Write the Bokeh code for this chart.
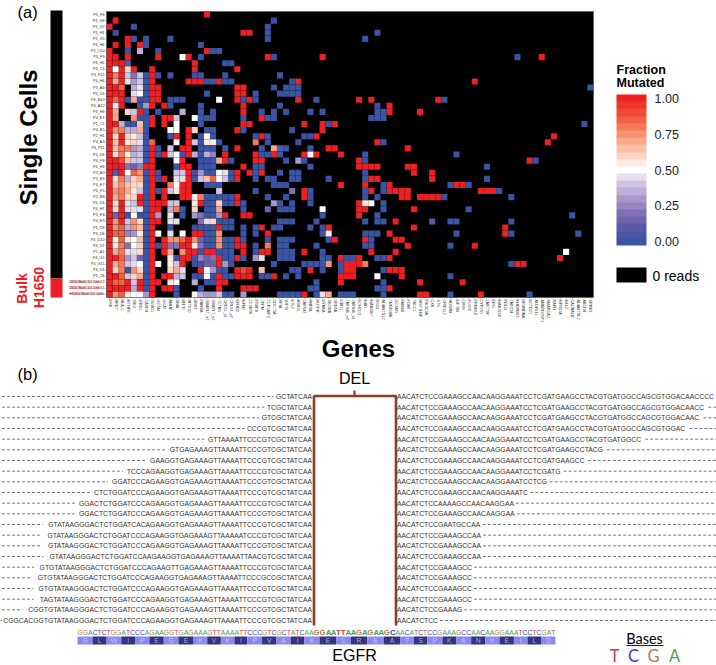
from math import pi
from bokeh.embed import file_html
from bokeh.resources import INLINE
from bokeh.plotting import figure
from bokeh.models import (ColumnDataSource, FactorRange, Range1d, LinearColorMapper, ColorBar,
                          FixedTicker, PrintfTickFormatter)

FONT = "Liberation Sans"

genes = ["DSK","BRD7","HLA-C","MTHFS","SIK3","IFRD1","CASP4","GLUD1","GOSM","GCAT","ANLN","DBAL","BFPD","INTS10",
         "DBX3","PAMBA","GBAPLT_v2","GBAPLT_v1","TCTN3","CRLS1_v1","CRLS1_v2","EFHD2","MFN2","ZC3H7B","PSBP8","ZFPM",
         "TOR1AIP2","CDC73A","RPIA","WIPI3","ETV2","ASH1L","ZNF592","RNPBL","RUTPR","DYNKA","SKOMB","SRD5B","LIBD1",
         "ZNFX4L_v2","ZNFX4L_v1","EOH2O3","MAD","KIAA0907","DSG1","ADAMTS12","TMEM38B","GOSM1","FAM8B","PGNT","TACC1",
         "HIST1H3F","PIK3C3A","CXK","STS","CRIF1L2","HDSRM","KIF7B6","OR6S","POSIS","PRDM10","CYP2S1","ZNF770P","ERG",
         "KIAA1614","PDLI3","ZNF224","KHDRBS3","DEXNDNA","KCTD21","ALDH1L1","ANKRD2SP1","SMARCA2","RAPH","MFSD2A",
         "MLL2","CACNA1B","ADAMTSL2","ABCD8","SRRM1"]
cells = ["P3_F6","P3_G8","P3_G7","P3_H1","P3_G5","P4_H6","P3_C10","P3_F9","P4_H2","P4_C3","P4_F12","P4_H4","P3_A6",
         "P3_C6","P4_B10","P4_A12","P3_H3","P4_E1","P1_C1","P4_B5","P2_H1","P4_A3","P4_F11","P4_D6","P4_F8","P4_H3",
         "P3_A3","P3_E6","P4_E7","P4_F5","P3_B8","P4_D4","P4_H7","P3_E8","P4_E9","P3_D8","P3_D6","P4_D10","P4_D7",
         "P1_A1","P4_G1","P4_G11","P4_D3","P3_C8","1650 Bulk 10 Cells 2","1650 Bulk 10 Cells 1","H1650 Bulk 50 Cells"]
bulk = cells[-3:]

# fully mutated calls per row (column indices)
rows_red = [[16],[1],[0],[22,23],[3],[1,3,5],[0,16],[0,1,3,8,13,26,35,71],[0,1,2,14],[0,2,4,7,14,21],[0,2,7],
 [0,2,7,13,14,15,18,31,60],[0,1,7,8,21,22],[0,1,2,7,8,21,22],[0,2,7,8,21,23,31,41,43,54],[0,2,7,9,22,46],
 [0,5,22,46,51],[0,7,9,10,25],[0,1,7,9,22,23,32,35,37],[0,13,21,35],[0,2,11,13,25,34,73],[0,2,13,44,72],
 [0,7,12,13,21,36,37,49],[0,7,9,13,19,24,27,32,34,38],[0,1,7,12,19,24,25,41,69],
 [0,1,2,6,7,12,13,22,41,42,43,44,49,50],[0,2,7,13,21,23,25,50,53],[0,7,9,13,21,43,44,53],
 [0,7,12,13,38,42,46,57,58],[0,7,9,12,13,32,43,46,47,48,49,61,62,63],[0,5,7,9,12,13,21,32,48,49,51,52,53,54],
 [0,2,5,7,8,9,15,21,41],[0,2,7,8,41,42,50],[0,2,7,8,19,22,23,41],[0,2,7,8,47],[0,7,18,25,36,50,65],
 [0,7,14,15,26,46,65],[0,7,9,13,21,37,42,47,48],[0,7,9,12,13,21,22,49,60],[0,7,9,13,14,16,17,22,25,26,32,43,47],
 [0,1,7,12,13,18,21,38,41,46,74],[0,7,12,18,39,40,41,67,68],[0,7,15,21,23,33,39,40,46,47,48],
 [0,1,7,9,10,18,21,22,23,27,38,39,40,48],[0,3,5,7,8,18,19,38,51,58],[0,1,2,3,5,7,9,10,18,22,23,24,46],
 [0,7,32,51,52,61]]
# unmutated calls per row (column indices)
rows_blue = [[],[27],[4,26],[1,26,44],[4,6,10,26,42],[6,15],[3,8,17,18],[15,27,67],[19,20],[],[6,8,10,14,15,19,28],
 [6,16,17,19,20,30],[6,27,29,30,31,79],[6,16,24,28,29,30,31],[3,5,6,10,11,12,22,24,34,55],[5,10,15,28,44],
 [6,8,15,17,25,27,29,33,35,44,45],[5,6,15,16,17,22,26,27,43,44,45],[3,4,6,15,36,78],[6,16,17,22,30],
 [6,10,15,17,24,26,32,33],[6,15,18,26,31,45],[6,8,15,16,17,19,25,29,33],[6,8,12,15,25,26,28,42,57],
 [6,15,16,17,20,29,32,42,70],[11,15,16,17,24,25,33,62],[6,8,14,16,17,20,24,28,30,31,42],
 [6,8,14,20,24,26,27,30,31,36,42,62],[6,16,17,18,27,28,29,45,56,59],[6,8,24,33,42,45,64],
 [6,16,17,18,19,20,26,29,33,42,44,55,66],[6,16,17,19,20,22,28,30,33,45],[6,12,16,17,22,28,29,30,45,59],
 [3,5,6,12,16,17,35,44,76],[6,18,19,20,28,29,30,34,42,44,45,56,57,66],[6,10,14,15,16,17,19,20,22,24,27,28,33,35],
 [6,16,17,22,24,35,42,43,44,57,66,77],[6,16,17,19,20,22,26,28,29,30,36,43],[6,8,16,17,19,20,24,28,29,34,42,43,56],
 [6,15,18,19,20,24,28,29,30,35],[6,11,14,19,20,22,28,29,30,35,36,39,40,44,45],[6,14,15,20,27,32,33,34,35,38,66],
 [3,6,18,19,30,31,35,38,45],[6,14,15,17,19,20,25,26,29,31,56],[6,16,17,34,45],[6,11,15,33,34,44,45],
 [11,19,20,28,29,30,31,34,38,39,40,45,56,69]]
# intermediate fractions per row (column -> fraction)
rows_mid = [{},{},{},{},{},{},{5:.35},{12:.5},{3:.12},{1:.52,3:.6},{1:.8,3:.42,4:.2,5:.38},{1:.7,3:.45,4:.28,5:.4},
 {2:.85,4:.35,5:.45},{4:.45,5:.5},{1:.85,4:.7,18:.5},{1:.45,6:.3},{1:.7,3:.6,4:.4,12:.35},{1:.7,4:.75,11:.4,14:.5},
 {2:.35,5:.65,11:.5},{1:.75,2:.8,3:.35,4:.35,5:.7,10:.5,11:.5,14:.6},{1:.6,3:.6,4:.55,5:.4,16:.5},
 {1:.65,3:.55,4:.6,5:.45,7:.85,11:.5,14:.4,16:.55,17:.55,24:.8},{1:.65,2:.8,3:.8,4:.3,5:.35,10:.4,27:.7,28:.12},
 {1:.6,2:.8,3:.55,4:.35,5:.4,10:.42,11:.5,14:.35,16:.35,17:.25,33:.5},{2:.9,3:.65,4:.4,5:.4,11:.5,18:.7,31:.3},
 {3:.2,4:.15,5:.25},{1:.12,3:.5,4:.85,5:.75,11:.4,12:.4,15:.3,18:.5,19:.45},
 {1:.6,2:.8,3:.35,4:.6,5:.7,11:.45,12:.45,15:.4,16:.65,17:.85,18:.5,19:.4},{1:.65,2:.75,3:.65,4:.6,5:.6,10:.8,11:.5},
 {1:.75,2:.8,3:.7,4:.55,5:.4,10:.4,11:.55,18:.4,30:.2},{1:.7,2:.8,3:.6,4:.6,14:.55,15:.8},
 {1:.6,3:.45,4:.4,10:.4,11:.4,14:.55,18:.6,27:.3,42:.55,43:.5},
 {1:.6,3:.45,4:.45,5:.47,10:.35,11:.8,14:.6,18:.7,26:.15,35:.5},{1:.15,4:.5,8:.3,10:.45,14:.3,15:.2,18:.3},
 {1:.75,3:.4,4:.75,5:.6,10:.45,11:.45,15:.2,16:.45,17:.6,53:.12},{1:.75,2:.85,3:.35,4:.75,5:.65},
 {1:.85,2:.85,3:.25,4:.3,5:.55,8:.5,10:.45,12:.48,18:.75,36:.55},
 {1:.55,2:.85,3:.55,4:.5,5:.65,10:.75,11:.75,12:.85,14:.75,15:.15,18:.75},
 {1:.55,2:.8,3:.2,4:.5,5:.6,10:.2,11:.2,14:.55,15:.2,18:.75,26:.8},{1:.7,2:.8,3:.45,4:.45,5:.6,10:.7,12:.75,75:.5},
 {2:.85,3:.3,4:.4,5:.15,10:.55,15:.25,16:.15,17:.2,24:.3,25:.45},
 {1:.7,2:.8,3:.4,4:.45,5:.5,8:.5,10:.55,11:.4,16:.15,17:.15,19:.3,36:.75,42:.8},
 {1:.6,2:.8,4:.75,5:.6,10:.6,11:.7,12:.45,16:.5,17:.3,22:.9,25:.65},{2:.85,3:.4,4:.6,5:.7,11:.35,12:.4,16:.5,44:.5},
 {1:.85,2:.85,4:.4,10:.55,11:.5,14:.35},{4:.35},
 {1:.75,2:.85,3:.55,4:.5,5:.48,6:.3,14:.5,15:.35,16:.3,17:.3,18:.4,22:.3,35:.45,36:.7}]

palette = ["#3b54a4","#4a55a6","#5b58a8","#6f62ae","#8371b6","#9484bf","#a898c9","#bcaed6","#cfc4e1","#e6dfee","#ffffff",
           "#fdebe2","#fcd5c4","#fbbfa8","#f9a98c","#f79273","#f57a5a","#f26144","#f04a35","#ee362a","#ed2024"]

left_reads = ["GCTATCAA","TCGCTATCAA","GTCGCTATCAA","CCCGTCGCTATCAA","GTTAAAATTCCCGTCGCTATCAA",
 "GTGAGAAAGTTAAAATTCCCGTCGCTATCAA","GAAGGTGAGAAAGTTAAAATTCCCGTCGCTATCAA","TCCCAGAAGGTGAGAAAGTTAAAATTCCCGTCGCTATCAA",
 "GGATCCCAGAAGGTGAGAAAGTTAAAATTCCCGTCGCTATCAA","CTCTGGATCCCAGAAGGTGAGAAAGTTAAAATTCCCGTCGCTATCAA",
 "GGACTCTGGATCCCAGAAGGTGAGAAAGTTAAAATTCCCGTCGCTATCAA","GGACTCTGGATCCCAGAAGGTGAGAAAGTTAAAATTCCCGTCGCTATCAA",
 "GTATAAGGGACTCTGGATCACAGAAGGTGAGAAAGTTAAAATTCCCGTCGCTATCAA","GTATAAGGGACTCTGGATCCCAGAAGGTGAGAAAGTTAAAAATCCCGTCGCTATCAA",
 "GTATAAGGGACTCTGGATCCCAGAAGGTGAGAAAGTTAAAATTCCCGTCGCTATCAA","GTATAAGGGACTCTGGATCCAAGAAGGTGAGAAAGTTAAAATTAACGTCGCTATCAA",
 "GTGTATAAGGGACTCTGGATCCCAGAAGTTGAGAAAGTTAAAATTCCCGTCGCTATCAA","GTGTATAAGGGACTCTGGATCCCAGAAGGTGAGAAAGTTAAAATTCCCGCCGCTATCAA",
 "GTGTATAAGGGACTCTGGATCCCAGAAGGTGAGAAAGTTAAAATTCCCGTCGCTATCAA","TAGTATAAGGGACTCTGGATCCCAGAAGGTGAGAAAGTTAAAATTCCCGTCGCTATCAA",
 "CGGTGTATAAGGGACTCTGGATCCCAGAAGGTGAGAAAGTTAAAATTCCCGTCGCTATCAA","CGGCACGGTGTATAAGGGACTCTGGATCCCAGAAGGTGAGAAAGTTAAAATTCCCGTCGCTATCAA"]
right_reads = ["AACATCTCCGAAAGCCAACAAGGAAATCCTCGATGAAGCCTACGTGATGGCCAGCGTGGACAACCCC",
 "AACATCTCCGAAAGCCAACAAGGAAATCCTCGATGAAGCCTACGTGATGGCCAGCGTGGACAACC","AACATCTCCGAAAGCCAACAAGGAAATCCTCGATGAAGCCTACGTGATGGCCAGCGTGGACAAC",
 "AACATCTCCGAAAGCCAACAAGGAAATCCTCGATGAAGCCTACGTGATGGCCAGCGTGGAC","AACATCTCCGAAAGCCAACAAGGAAATCCTCGATGAAGCCTACGTGATGGCC",
 "AACATCTCCGAAAGCCAACAAGGAAATCCTCGATGAAGCCTACG","AACATCTCCGAAAGCCAACAAGGAAATCCTCGATGAAGCC","AACATCTCCGAAAGCCAACAAGGAAATCCTCGATG",
 "AACATCTCCGAAAGCCAACAAGGAAATCCTCG","AACATCTCCGAAAGCCAACAAGGAAATC","AACATCTCCAAAAGCCAACAAGGAA","AACATCTCCGAAAGCCAACAAGGAA",
 "AACATCTCCGAATGCCAA","AACATCTCCGAAAGCCAA","AACATCTCCGAAAGCCAA","AACATCTCCGAAAGCCAA","AACATCTCCGAAAGCC","AACATCTCCGAAAGCC",
 "AACATCTCCGAAAGCC","AACATCTCCGAAAGCC","AACATCTCCGAAAG","AACATCTCC"]
reference = "GGACTCTGGATCCCAGAAGGTGAGAAAGTTAAAATTCCCGTCGCTATCAAGGAATTAAGAGAAGCAACATCTCCGAAAGCCAACAAGGAAATCCTCGAT"
deleted = (50, 65)
residues = list("GLWIPEGEKVKIPVAIKELREATSPKANKEILD")
base_colors = {"T": "#d43c3c", "C": "#3c3cc0", "G": "#b27a55", "A": "#45a05a"}
base_widths = {"A": .667, "C": .722, "G": .778, "T": .611}

# ---------- (a) heat map ----------
x_c, y_c, v_c = [], [], []
for name, reds, blues, mids in zip(cells, rows_red, rows_blue, rows_mid):
    for c in reds:
        x_c.append(genes[c]); y_c.append(name); v_c.append(1.0)
    for c in blues:
        x_c.append(genes[c]); y_c.append(name); v_c.append(0.0)
    for c, f in mids.items():
        x_c.append(genes[c]); y_c.append(name); v_c.append(f)

top = figure(width=716, height=330, output_backend="svg", toolbar_location=None,
             x_range=FactorRange(factors=genes), y_range=FactorRange(factors=cells[::-1]),
             frame_width=487, frame_height=286, min_border_left=106, min_border_right=123,
             min_border_top=11, min_border_bottom=33, background_fill_color="black",
             outline_line_color="#666666", outline_line_width=1, margin=(0, 0, 0, 0))
top.grid.visible = False
mapper = LinearColorMapper(palette=palette, low=-0.025, high=1.025)
top.rect(x="x", y="y", width=1, height=1, source=ColumnDataSource(dict(x=x_c, y=y_c, v=v_c)),
         fill_color={"field": "v", "transform": mapper}, line_color="black", line_alpha=0.12, line_width=0.5)
for ax in (top.xaxis[0], top.yaxis[0]):
    ax.axis_line_color = None
    ax.major_tick_line_color = "#555555"
    ax.major_tick_line_width = 0.5
    ax.major_tick_out = 1
    ax.major_tick_in = 0
    ax.minor_tick_line_color = None
    ax.major_label_text_font = FONT
    ax.major_label_text_font_size = "3.8px"
    ax.major_label_text_color = "#333333"
    ax.major_label_standoff = 1
top.xaxis[0].major_label_orientation = "vertical"
top.yaxis[0].major_label_overrides = {b: "" for b in bulk}

cb = ColorBar(color_mapper=mapper, ticker=FixedTicker(ticks=[0, .25, .5, .75, 1]),
              formatter=PrintfTickFormatter(format="%.2f"), width=30, height=151, padding=0, margin=0,
              location=(510, 52), major_label_text_font=FONT, major_label_text_font_size="12.5px",
              major_label_text_color="#222222", label_standoff=8, major_tick_line_color=None,
              bar_line_color=None, border_line_color=None, background_fill_alpha=0)
top.add_layout(cb)

# ---------- page overlay: labels, side bars, (b) alignment ----------
Y0, DY, FS = 396.0, 10.667, 6.8


def twidth(s, fs=FS):
    return sum(base_widths[ch] for ch in s) * fs


bot = figure(width=716, height=665, output_backend="svg", toolbar_location=None, x_range=Range1d(0, 716),
             y_range=Range1d(665, 0), min_border=0, outline_line_color=None, background_fill_alpha=0,
             border_fill_alpha=0, margin=(0, 0, 0, 0), styles={"position": "absolute", "left": "0px", "top": "0px"})
bot.axis.visible = False
bot.grid.visible = False


def note(x, y, text, size, color="black", align="center", font=FONT, bold=False, angle=0.0):
    bot.text(x=[x], y=[y], text=[text], text_font={"value": font}, text_font_size={"value": f"{size}px"},
             text_color=color, text_align=align, text_baseline="middle", angle=angle,
             text_font_style="bold" if bold else "normal")


RED = "#ed1c24"
bot.quad(left=[50, 50, 616], right=[62, 62, 646], top=[10, 278, 267], bottom=[278, 297, 282],
         fill_color=["black", RED, "black"], line_color=None)
note(17, 11, "(a)", 16.5, align="left")
note(28, 137, "Single Cells", 24, bold=True, angle=pi/2)
note(21, 288, "Bulk", 14, RED, bold=True, angle=pi/2)
note(38, 287, "H1650", 14, RED, bold=True, angle=pi/2)
note(358, 348, "Genes", 24, bold=True)
note(616, 69, "Fraction", 12.5, align="left", bold=True)
note(616, 82, "Mutated", 12.5, align="left", bold=True)
note(652, 275, "0 reads", 14, align="left")
for i, b in enumerate(bulk):
    note(102, 281.7 + i * 6.0, b, 3.7, RED, align="right")

ys = [Y0 + DY * i for i in range(len(left_reads))]
L_END, R_START = 311.5, 396.5
bot.text(x=[L_END] * len(ys), y=ys, text=left_reads, text_font={"value": FONT}, text_font_size={"value": f"{FS}px"},
         text_align="right", text_baseline="middle", text_color="#333333")
bot.text(x=[R_START] * len(ys), y=ys, text=right_reads, text_font={"value": FONT}, text_font_size={"value": f"{FS}px"},
         text_align="left", text_baseline="middle", text_color="#333333")
gap_x0 = [1.5] * len(ys) + [R_START + twidth(s) + 1.5 for s in right_reads]
gap_x1 = [L_END - twidth(s) - 1.5 for s in left_reads] + [716] * len(ys)
bot.segment(x0=gap_x0, x1=gap_x1, y0=ys + ys, y1=ys + ys, line_color="#555555", line_width=0.8, line_dash="3 2")

BROWN = "#8b3f23"
bot.line([313.5, 313.5, 395.5, 395.5], [625, 395.5, 395.5, 625], line_color=BROWN, line_width=2.6)
bot.line([354, 354], [390, 395], line_color=BROWN, line_width=2.2)

# reference strand, one letter per base, and its codon strip
widths = [base_widths[b] * (7.8 if deleted[0] <= i < deleted[1] else FS) for i, b in enumerate(reference)]
scale = (555 - 77) / sum(widths)
edges = [77.0]
for w in widths:
    edges.append(edges[-1] + w * scale)
bot.text(x=edges[:-1], y=[632] * len(reference), text=list(reference), text_font={"value": FONT},
         text_font_size=[f"{7.8 if deleted[0] <= i < deleted[1] else FS}px" for i in range(len(reference))],
         text_font_style=["bold" if deleted[0] <= i < deleted[1] else "normal" for i in range(len(reference))],
         text_color=[base_colors[b] for b in reference], text_align="left", text_baseline="middle")
lefts = [edges[i * 3] for i in range(len(residues))]
rights = [edges[i * 3 + 3] for i in range(len(residues))]
bot.quad(left=lefts, right=rights, top=[636] * len(residues), bottom=[644] * len(residues), line_color=None,
         fill_color=["#8a8aee" if i % 2 == 0 else "#33337f" for i in range(len(residues))])
bot.text(x=[(a + b) / 2 for a, b in zip(lefts, rights)], y=[640] * len(residues), text=residues,
         text_font={"value": FONT}, text_font_size={"value": "6.8px"}, text_align="center", text_baseline="middle",
         text_color=["#c4c4fa" if i % 2 == 0 else "#a8a8dc" for i in range(len(residues))])

note(17, 373, "(b)", 16.5, align="left")
note(354, 378, "DEL", 16)
note(354, 655, "EGFR", 16)
note(644, 638, "Bases", 14.5, font="Lato")
bot.line([626, 663], [645, 645], line_color="black", line_width=0.9)
for bx, ch in zip([614, 633, 653, 674], "TCGA"):
    note(bx, 655, ch, 16.5, base_colors[ch], font="Lato")

open("out.html", "w").write(file_html((top, bot), INLINE))
